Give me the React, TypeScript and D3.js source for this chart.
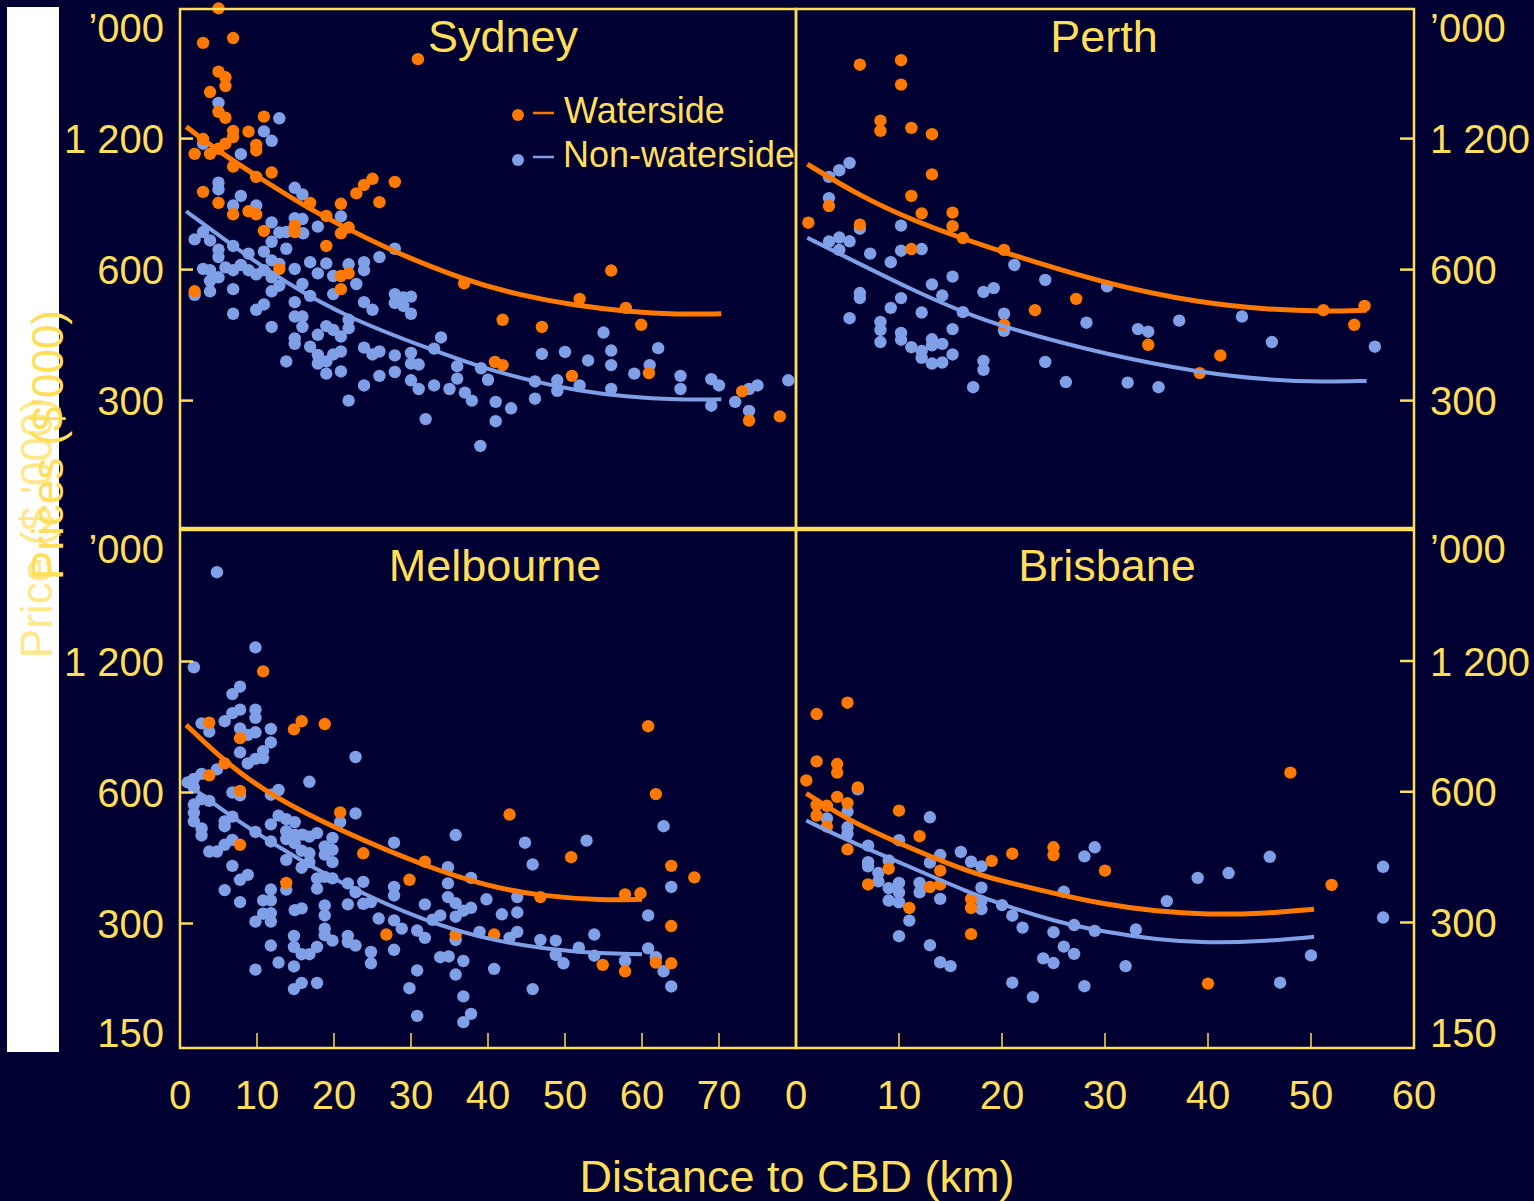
import * as d3 from 'd3';

type Pt = [number, number]; // [distance km, price $'000]

// ---- Sydney ----
const sydneyWaterside: Pt[] = [
  [5.0, 2390], [3.0, 1991], [6.9, 2043], [30.9, 1827], [5.0, 1710], [5.9, 1660], [5.9, 1585], [3.9, 1535],
  [5.0, 1383], [5.9, 1340], [10.9, 1348], [6.9, 1250], [8.9, 1245], [6.9, 1210], [3.0, 1197], [5.9, 1168],
  [9.9, 1160], [9.9, 1127], [1.9, 1107], [3.9, 1107], [5.0, 1137], [6.9, 1035], [11.9, 1003], [9.9, 980],
  [3.0, 905], [5.0, 854], [6.9, 804], [8.9, 817], [9.9, 804], [10.9, 736], [14.9, 757], [14.9, 732],
  [16.9, 854], [19.0, 797], [20.9, 850], [20.9, 727], [21.9, 750], [22.9, 898], [23.9, 939], [25.0, 970],
  [27.9, 954], [25.9, 857], [19.0, 680], [12.9, 602], [20.9, 580], [21.9, 588], [20.9, 541], [1.9, 535],
  [36.9, 558], [56.0, 597], [51.9, 514], [57.9, 490], [41.9, 460], [47.0, 443], [59.9, 448], [40.9, 368],
  [41.9, 362], [50.9, 342], [60.9, 347], [73.0, 315], [73.9, 270], [77.9, 276],
];
const sydneyNonWaterside: Pt[] = [
  [5.0, 1450], [12.9, 1336], [10.9, 1247], [11.9, 1186], [7.9, 1105], [3.0, 1168], [5.0, 950], [5.0, 917],
  [7.9, 886], [6.9, 842], [9.9, 842], [14.9, 925], [15.9, 893], [11.9, 770], [14.9, 788], [15.9, 784],
  [17.9, 753], [20.9, 795], [12.9, 730], [13.8, 732], [16.0, 727], [11.9, 695], [13.8, 670], [27.9, 670],
  [25.9, 641], [1.9, 704], [3.9, 700], [3.0, 732], [5.0, 667], [5.0, 641], [6.9, 680], [8.9, 653],
  [10.9, 660], [11.9, 630], [12.9, 618], [3.0, 602], [3.9, 598], [5.9, 607], [6.9, 598], [7.9, 615],
  [8.9, 598], [9.9, 585], [10.9, 598], [11.9, 576], [3.9, 565], [5.0, 576], [3.9, 535], [1.9, 525],
  [6.9, 541], [11.9, 535], [12.9, 551], [14.9, 602], [16.9, 624], [19.0, 620], [17.9, 588], [15.9, 556],
  [16.9, 522], [19.9, 580], [21.9, 617], [23.9, 624], [23.9, 598], [22.9, 556], [19.9, 527], [27.9, 527],
  [29.0, 518], [27.9, 503], [30.0, 520], [29.0, 495], [30.0, 475], [23.9, 505], [25.0, 485], [14.9, 505],
  [9.9, 485], [10.9, 499], [6.9, 475], [11.9, 443], [14.9, 468], [15.9, 468], [15.9, 443], [17.9, 425],
  [19.0, 445], [19.9, 436], [20.9, 421], [21.9, 460], [21.9, 440], [14.9, 417], [14.9, 405], [16.9, 399],
  [17.9, 382], [19.0, 369], [19.9, 383], [20.9, 389], [17.9, 365], [19.0, 346], [20.9, 350], [13.8, 369],
  [23.9, 397], [25.0, 383], [25.9, 389], [27.9, 381], [30.0, 386], [30.0, 365], [31.0, 363], [33.0, 395],
  [33.9, 419], [27.9, 349], [25.9, 342], [23.9, 325], [21.9, 300], [30.0, 334], [31.0, 319], [33.0, 325],
  [35.0, 319], [36.0, 360], [36.0, 337], [37.0, 313], [37.9, 300], [39.1, 356], [40.0, 335], [41.0, 298],
  [43.0, 288], [41.0, 269], [31.9, 272], [39.0, 236], [46.1, 332], [46.1, 303], [49.0, 334], [49.0, 316],
  [51.9, 325], [47.0, 384], [50.0, 388], [53.0, 371], [55.0, 430], [56.0, 391], [56.0, 362], [56.0, 319],
  [59.0, 346], [61.0, 362], [62.1, 396], [65.0, 342], [65.0, 319], [69.0, 336], [70.0, 325], [69.0, 292],
  [72.1, 298], [73.9, 319], [75.0, 325], [73.9, 284], [79.0, 334],
];
const sydneyWatersideFit: Pt[] = [
  [0.8, 1278], [5.1, 1120], [10.3, 975], [16.9, 825], [22.1, 740], [27.7, 660], [36.9, 568], [44.1, 524],
  [51.3, 496], [57.9, 481], [64.6, 473], [70.3, 475],
];
const sydneyNonWatersideFit: Pt[] = [
  [0.8, 817], [6.9, 680], [13.8, 558], [22.1, 462], [32.8, 392], [39.0, 358], [46.2, 331], [51.3, 317],
  [57.9, 306], [64.6, 301], [70.3, 302],
];

// ---- Perth ----
const perthWaterside: Pt[] = [
  [6.2, 1774], [10.2, 1817], [10.2, 1597], [8.2, 1320], [8.2, 1250], [11.2, 1270], [13.2, 1228], [13.2, 993],
  [11.2, 886], [3.2, 840], [1.2, 769], [6.2, 761], [12.2, 808], [15.2, 811], [15.2, 755], [16.2, 709],
  [11.2, 669], [20.2, 666], [27.2, 514], [23.2, 484], [20.2, 448], [34.2, 403], [41.2, 381], [39.2, 347],
  [51.2, 484], [55.2, 495], [54.2, 448],
];
const perthNonWaterside: Pt[] = [
  [5.2, 1055], [4.2, 1015], [3.2, 980], [3.2, 876], [6.2, 745], [10.2, 757], [4.2, 711], [3.2, 696],
  [5.2, 697], [4.2, 666], [7.2, 653], [9.2, 624], [10.2, 663], [12.2, 669], [13.2, 555], [15.2, 578],
  [14.2, 523], [10.2, 516], [6.2, 530], [6.2, 516], [9.2, 490], [12.2, 478], [5.2, 464], [8.2, 455],
  [8.2, 436], [8.2, 409], [10.2, 429], [10.2, 414], [11.2, 398], [12.2, 390], [12.2, 376], [13.2, 415],
  [13.2, 402], [14.2, 405], [13.2, 365], [14.2, 367], [15.2, 383], [15.2, 438], [16.2, 479], [18.2, 533],
  [19.2, 544], [20.2, 475], [20.2, 434], [21.2, 615], [24.2, 568], [18.2, 370], [18.2, 353], [17.2, 322],
  [24.2, 368], [26.2, 331], [28.2, 453], [30.2, 549], [33.2, 438], [34.2, 432], [32.2, 330], [35.2, 322],
  [37.2, 458], [43.3, 468], [46.2, 409], [56.2, 399],
];
const perthWatersideFit: Pt[] = [
  [1.1, 1048], [6.2, 886], [11.2, 781], [16.2, 707], [20.2, 657], [30.2, 555], [39.2, 503], [46.2, 485],
  [51.2, 481], [55.4, 484],
];
const perthNonWatersideFit: Pt[] = [
  [1.1, 710], [6.2, 618], [11.2, 540], [16.2, 479], [20.2, 442], [30.2, 382], [39.2, 348], [46.2, 334],
  [51.2, 331], [55.4, 333],
];

// ---- Melbourne ----
const melbourneWaterside: Pt[] = [
  [10.8, 1139], [3.8, 868], [15.8, 875], [14.8, 838], [18.8, 862], [7.8, 800], [5.8, 700], [3.8, 657],
  [7.8, 605], [20.8, 540], [42.8, 534], [7.8, 455], [23.8, 435], [31.8, 416], [29.8, 378], [13.8, 372],
  [50.8, 426], [46.8, 345], [57.8, 350], [59.8, 352], [60.8, 852], [61.8, 595], [63.8, 407], [66.8, 383],
  [63.8, 296], [63.8, 243], [61.8, 244], [54.9, 241], [57.8, 233], [26.8, 283], [35.8, 283], [40.8, 283],
];
const melbourneNonWaterside: Pt[] = [
  [4.8, 1925], [9.8, 1293], [1.8, 1164], [7.8, 1050], [6.8, 1010], [7.8, 930], [6.8, 913], [9.8, 930],
  [9.8, 891], [5.8, 875], [2.8, 865], [3.8, 828], [7.8, 842], [8.8, 814], [9.8, 825], [11.8, 840],
  [11.8, 782], [7.8, 742], [10.8, 747], [10.8, 720], [9.8, 717], [8.8, 700], [22.8, 724], [4.8, 678],
  [2.8, 662], [1.8, 645], [1.0, 633], [1.8, 616], [16.8, 635], [12.8, 608], [11.8, 593], [6.8, 600],
  [7.8, 591], [2.8, 579], [3.8, 574], [1.8, 563], [1.8, 539], [1.8, 515], [5.8, 515], [5.8, 502],
  [6.8, 528], [2.8, 496], [2.8, 478], [9.8, 487], [11.8, 507], [12.8, 531], [13.8, 521], [14.9, 513],
  [13.8, 489], [13.8, 469], [14.9, 480], [15.9, 480], [16.8, 475], [17.8, 484], [14.9, 459], [11.8, 463],
  [6.8, 467], [5.8, 455], [4.8, 439], [3.8, 439], [19.8, 472], [20.8, 513], [22.8, 537], [18.8, 451],
  [19.8, 443], [19.8, 415], [18.8, 432], [15.8, 441], [16.8, 435], [16.8, 415], [15.8, 403], [13.8, 420],
  [6.8, 407], [8.8, 388], [7.8, 378], [5.8, 358], [7.8, 336], [11.8, 359], [10.8, 339], [11.8, 339],
  [10.8, 316], [11.8, 317], [9.8, 303], [11.8, 303], [11.8, 267], [13.8, 359], [17.8, 381], [17.8, 361],
  [18.8, 384], [19.8, 381], [21.8, 371], [23.8, 374], [22.8, 354], [23.8, 333], [21.8, 332], [24.8, 336],
  [18.8, 330], [18.8, 313], [14.9, 322], [15.8, 325], [18.8, 292], [18.8, 282], [19.8, 274], [21.8, 281],
  [21.8, 272], [22.8, 267], [14.8, 281], [14.8, 265], [15.8, 255], [16.8, 255], [17.8, 265], [12.8, 244],
  [14.8, 239], [9.8, 235], [15.8, 219], [14.8, 212], [17.8, 219], [24.8, 258], [24.8, 243], [27.8, 460],
  [27.8, 364], [27.8, 348], [25.8, 308], [27.8, 305], [28.8, 292], [27.8, 261], [29.8, 213], [30.8, 234],
  [30.8, 184], [30.8, 289], [31.8, 278], [31.8, 332], [32.8, 306], [33.8, 313], [33.8, 251], [34.9, 252],
  [34.8, 404], [34.8, 371], [34.8, 345], [35.8, 334], [35.8, 311], [36.8, 321], [37.8, 326], [35.8, 275],
  [35.8, 229], [36.8, 246], [36.8, 204], [37.8, 186], [36.8, 178], [37.8, 382], [35.8, 479], [39.8, 341],
  [38.9, 287], [40.8, 236], [41.8, 315], [42.8, 278], [43.8, 345], [43.8, 318], [43.8, 287], [44.8, 460],
  [45.8, 410], [45.8, 212], [46.8, 275], [48.8, 274], [48.8, 254], [49.8, 243], [51.8, 264], [52.8, 465],
  [53.8, 283], [53.8, 253], [57.8, 246], [60.8, 313], [60.8, 263], [61.8, 251], [62.8, 502], [63.8, 364],
  [62.8, 233], [63.8, 215],
];
const melbourneWatersideFit: Pt[] = [
  [0.8, 858], [5.8, 706], [11.8, 590], [20.8, 490], [31.8, 406], [40.0, 365], [46.8, 347], [54.9, 339],
  [60.0, 341],
];
const melbourneNonWatersideFit: Pt[] = [
  [1.0, 627], [6.8, 526], [12.8, 449], [20.8, 371], [31.8, 303], [41.0, 272], [51.3, 257], [60.0, 255],
];

// ---- Brisbane ----
const brisbaneWaterside: Pt[] = [
  [5.0, 962], [2.0, 906], [2.0, 705], [4.0, 695], [4.0, 664], [1.0, 637], [6.0, 614], [4.0, 584],
  [2.0, 560], [3.0, 557], [5.0, 565], [2.0, 529], [3.0, 499], [10.0, 543], [12.0, 474], [5.0, 442],
  [7.0, 367], [9.0, 399], [13.0, 362], [14.0, 395], [14.0, 367], [11.0, 324], [17.0, 324], [17.0, 340],
  [17.0, 282], [19.0, 416], [21.0, 432], [25.0, 447], [25.0, 429], [30.0, 395], [48.0, 664], [52.0, 366],
  [40.0, 217],
];
const brisbaneNonWaterside: Pt[] = [
  [6.0, 608], [5.0, 540], [3.0, 521], [13.0, 524], [5.0, 497], [5.0, 480], [10.0, 464], [7.0, 451],
  [7.0, 413], [7.0, 404], [9.0, 417], [8.0, 390], [8.0, 373], [9.0, 360], [9.0, 337], [10.0, 370],
  [10.0, 352], [10.0, 334], [12.0, 370], [12.0, 352], [13.0, 412], [14.0, 429], [14.0, 340], [16.0, 436],
  [17.0, 414], [18.0, 404], [18.0, 361], [18.0, 336], [18.0, 322], [11.0, 303], [10.0, 279], [13.0, 266],
  [14.0, 243], [15.0, 238], [20.0, 329], [21.0, 311], [22.0, 292], [21.0, 218], [23.0, 202], [24.0, 248],
  [25.0, 242], [25.0, 285], [26.0, 353], [26.0, 264], [27.0, 296], [27.0, 254], [28.0, 426], [29.0, 447],
  [29.0, 287], [28.0, 214], [32.0, 238], [33.0, 289], [36.0, 336], [39.0, 380], [42.0, 390], [46.0, 425],
  [47.0, 218], [50.0, 252], [57.0, 403], [57.0, 308],
];
const brisbaneWatersideFit: Pt[] = [
  [1.0, 595], [5.0, 517], [10.0, 456], [17.0, 390], [20.0, 374], [25.0, 350], [30.0, 330], [35.0, 318],
  [40.0, 313], [45.0, 314], [50.3, 322],
];
const brisbaneNonWatersideFit: Pt[] = [
  [1.0, 515], [5.0, 464], [10.0, 413], [17.0, 350], [20.0, 330], [25.0, 302], [30.0, 285], [35.0, 274],
  [40.0, 269], [45.0, 271], [50.3, 278],
];

const priceTicks = [1200, 600, 300];
const priceTickLabels = ['1 200', '600', '300'];
const seriesNames = ['Waterside', 'Non-waterside'];

const FONT = '"Liberation Sans", Arial, Helvetica, sans-serif';
const BG = '#000033';
const YELLOW = '#FFDE59';
const ORANGE = '#FF7800';
const BLUE = '#7FA0E6';

interface PanelDef {
  name: string;
  water: Pt[];
  non: Pt[];
  waterFit: Pt[];
  nonFit: Pt[];
  xMax: number;
  left: number;
  right: number;
  top: number;
  bottom: number;
  y1200: number;
  y300: number;
  side: 'left' | 'right';
  bottomRow: boolean;
  titleX: number;
  titleY: number;
}

const panels: PanelDef[] = [
  {
    name: 'Sydney', water: sydneyWaterside, non: sydneyNonWaterside,
    waterFit: sydneyWatersideFit, nonFit: sydneyNonWatersideFit,
    xMax: 80, left: 180, right: 796, top: 9, bottom: 528, y1200: 138.6, y300: 400.6,
    side: 'left', bottomRow: false, titleX: 503, titleY: 52,
  },
  {
    name: 'Perth', water: perthWaterside, non: perthNonWaterside,
    waterFit: perthWatersideFit, nonFit: perthNonWatersideFit,
    xMax: 60, left: 796, right: 1414, top: 9, bottom: 528, y1200: 138.6, y300: 400.6,
    side: 'right', bottomRow: false, titleX: 1104, titleY: 52,
  },
  {
    name: 'Melbourne', water: melbourneWaterside, non: melbourneNonWaterside,
    waterFit: melbourneWatersideFit, nonFit: melbourneNonWatersideFit,
    xMax: 80, left: 180, right: 796, top: 530, bottom: 1048, y1200: 661.5, y300: 923.5,
    side: 'left', bottomRow: true, titleX: 495, titleY: 581,
  },
  {
    name: 'Brisbane', water: brisbaneWaterside, non: brisbaneNonWaterside,
    waterFit: brisbaneWatersideFit, nonFit: brisbaneNonWatersideFit,
    xMax: 60, left: 796, right: 1414, top: 530, bottom: 1048, y1200: 661, y300: 922.5,
    side: 'right', bottomRow: true, titleX: 1107, titleY: 581,
  },
];

function Panel({ p }: { p: PanelDef }) {
  const x = d3.scaleLinear().domain([0, p.xMax]).range([p.left, p.right]);
  const y = d3.scaleLog().domain([300, 1200]).range([p.y300, p.y1200]);
  const line = d3
    .line<Pt>()
    .x((d) => x(d[0]))
    .y((d) => y(d[1]))
    .curve(d3.curveBasis);

  const isLeft = p.side === 'left';
  const labelX = isLeft ? 164 : 1430;
  const anchor = isLeft ? 'end' : 'start';
  const tickX0 = isLeft ? p.left : p.right - 14;
  const tickX1 = isLeft ? p.left + 13 : p.right;

  const xTicks = d3.range(0, p.xMax + 1, 10);
  const xLabelTicks = isLeft ? xTicks.filter((t) => t < p.xMax) : xTicks;

  return (
    <g>
      {/* points: non-waterside underneath, waterside on top */}
      {p.non.map((d, i) => (
        <circle key={`n${i}`} cx={x(d[0])} cy={y(d[1])} r={6.2} fill={BLUE} />
      ))}
      {p.water.map((d, i) => (
        <circle key={`w${i}`} cx={x(d[0])} cy={y(d[1])} r={6.2} fill={ORANGE} />
      ))}
      <path d={line(p.nonFit) ?? ''} fill="none" stroke={BLUE} strokeWidth={4} />
      <path d={line(p.waterFit) ?? ''} fill="none" stroke={ORANGE} strokeWidth={5} />

      <rect
        x={p.left}
        y={p.top}
        width={p.right - p.left}
        height={p.bottom - p.top}
        fill="none"
        stroke={YELLOW}
        strokeWidth={2.5}
      />

      {priceTicks.map((t, i) => (
        <g key={t}>
          <line x1={tickX0} x2={tickX1} y1={y(t)} y2={y(t)} stroke={YELLOW} strokeWidth={2.5} />
          <text x={labelX} y={y(t) + 14.5} textAnchor={anchor} fontSize={40} fill={YELLOW}>
            {priceTickLabels[i]}
          </text>
        </g>
      ))}
      <text x={labelX} y={p.top + 33} textAnchor={anchor} fontSize={40} fill={YELLOW}>
        ’000
      </text>
      {p.bottomRow && (
        <text x={labelX} y={p.bottom - 1} textAnchor={anchor} fontSize={40} fill={YELLOW}>
          150
        </text>
      )}

      {p.bottomRow &&
        xTicks
          .filter((t) => t > 0 && t < p.xMax)
          .map((t) => (
            <line key={`xt${t}`} x1={x(t)} x2={x(t)} y1={p.bottom} y2={p.bottom - 15} stroke={YELLOW} strokeWidth={1.5} />
          ))}
      {p.bottomRow &&
        xLabelTicks.map((t) => (
          <text key={`xl${t}`} x={x(t)} y={1109} textAnchor="middle" fontSize={40} fill={YELLOW}>
            {t}
          </text>
        ))}

      <text x={p.titleX} y={p.titleY} textAnchor="middle" fontSize={45} fill={YELLOW}>
        {p.name}
      </text>
    </g>
  );
}

export default function App() {
  return (
    <svg
      width={1534}
      height={1201}
      style={{ position: 'absolute', left: 0, top: 0, display: 'block' }}
      fontFamily={FONT}
    >
      <rect x={0} y={0} width={1534} height={1201} fill={BG} />
      <rect x={7} y={7} width={52} height={1045} fill="#ffffff" />
      <text
        transform="translate(52,528) rotate(-90)"
        textAnchor="middle"
        fontSize={44}
        fill={YELLOW}
        opacity={0.7}
      >
        Price ($ '000)
      </text>
      <text transform="translate(63,445) rotate(-90)" textAnchor="middle" fontSize={44} fill={YELLOW}>
        Prices ($'000)
      </text>

      {panels.map((p) => (
        <Panel key={p.name} p={p} />
      ))}

      {/* legend */}
      <g fontSize={36} fill={YELLOW}>
        <circle cx={518} cy={115} r={6} fill={ORANGE} />
        <line x1={533} x2={554} y1={113} y2={113} stroke={ORANGE} strokeWidth={2.5} />
        <text x={564} y={123}>{seriesNames[0]}</text>
        <circle cx={518} cy={160} r={6} fill={BLUE} />
        <line x1={533} x2={554} y1={157} y2={157} stroke={BLUE} strokeWidth={2.5} />
        <text x={563} y={167}>{seriesNames[1]}</text>
      </g>

      <text x={797} y={1192} textAnchor="middle" fontSize={45} fill={YELLOW}>
        Distance to CBD (km)
      </text>
    </svg>
  );
}
